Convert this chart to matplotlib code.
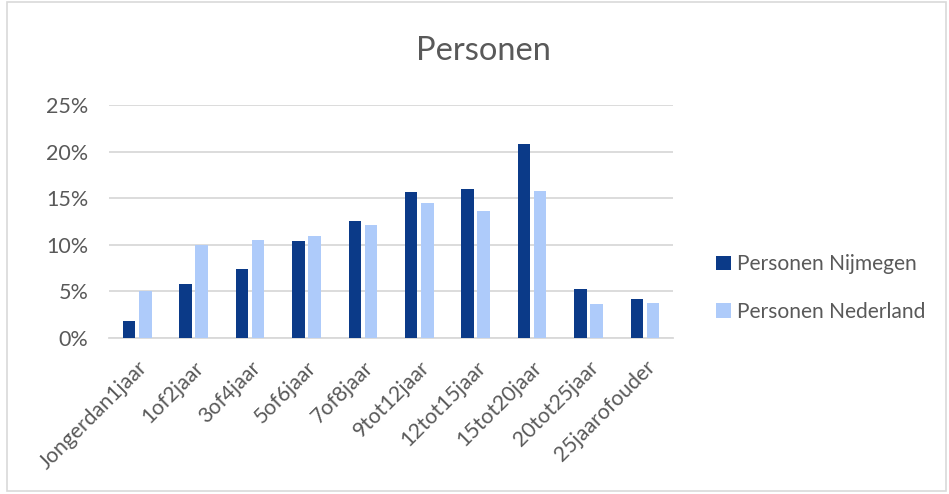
import numpy as np
import matplotlib.pyplot as plt
from matplotlib.patches import Rectangle

# -------------------- Data --------------------

categories = ["Jongerdan1jaar", "1of2jaar", "3of4jaar", "5of6jaar", "7of8jaar",
              "9tot12jaar", "12tot15jaar", "15tot20jaar", "20tot25jaar", "25jaarofouder"]
nijmegen = [1.8, 5.75, 7.35, 10.4, 12.5, 15.65, 15.95, 20.85, 5.2, 4.2]
nederland = [5.0, 9.95, 10.55, 10.9, 12.15, 14.5, 13.6, 15.75, 3.6, 3.7]
yticks = [0, 5, 10, 15, 20, 25]

# -------------------- Plot --------------------

plt.rcParams['font.family'] = ['Lato', 'DejaVu Sans']
grey = "#595959"

fig = plt.figure(figsize=(9.49, 4.94), dpi=100)
ax = fig.add_axes([0.1149, 0.3164, 0.5943, 0.471])

x = np.arange(len(categories))
w = 0.22
ax.bar(x - 0.143, nijmegen, w, color="#0B3A88", label="Personen Nijmegen", zorder=3)
ax.bar(x + 0.143, nederland, w, color="#AECBFA", label="Personen Nederland", zorder=3)

ax.set_xlim(-0.5, len(categories) - 0.5)
ax.set_ylim(0, 25)
ax.set_yticks(yticks)
ax.set_yticklabels([f"{t}%" for t in yticks], fontsize=15.5, color=grey)
ax.set_xticks(x)
ax.set_xticklabels(categories, rotation=45, ha="right", rotation_mode="anchor",
                   fontsize=15.3, color=grey)
ax.tick_params(axis="y", length=0, pad=15)
ax.tick_params(axis="x", length=0, pad=14)

ax.grid(axis="y", color="#D9D9D9", linewidth=1.3, zorder=0)
for s in ["top", "right", "left"]:
    ax.spines[s].set_visible(False)
ax.spines["bottom"].set_color("#D9D9D9")
ax.spines["bottom"].set_linewidth(1.3)

fig.text(0.509, 0.897, "Personen", ha="center", va="center", fontsize=23.5, color=grey)

leg = ax.legend(loc="center left", bbox_to_anchor=(0.735, 0.417), bbox_transform=fig.transFigure,
                frameon=False, fontsize=15.1, handlelength=0.7, handleheight=0.7,
                handletextpad=0.3, labelspacing=1.3)
for t in leg.get_texts():
    t.set_color(grey)

fig.patches.append(Rectangle((0.007, 0.006), 0.99, 0.99, transform=fig.transFigure,
                             fill=False, edgecolor="#D9D9D9", linewidth=1.2))

fig.savefig("out.png", dpi=100)
